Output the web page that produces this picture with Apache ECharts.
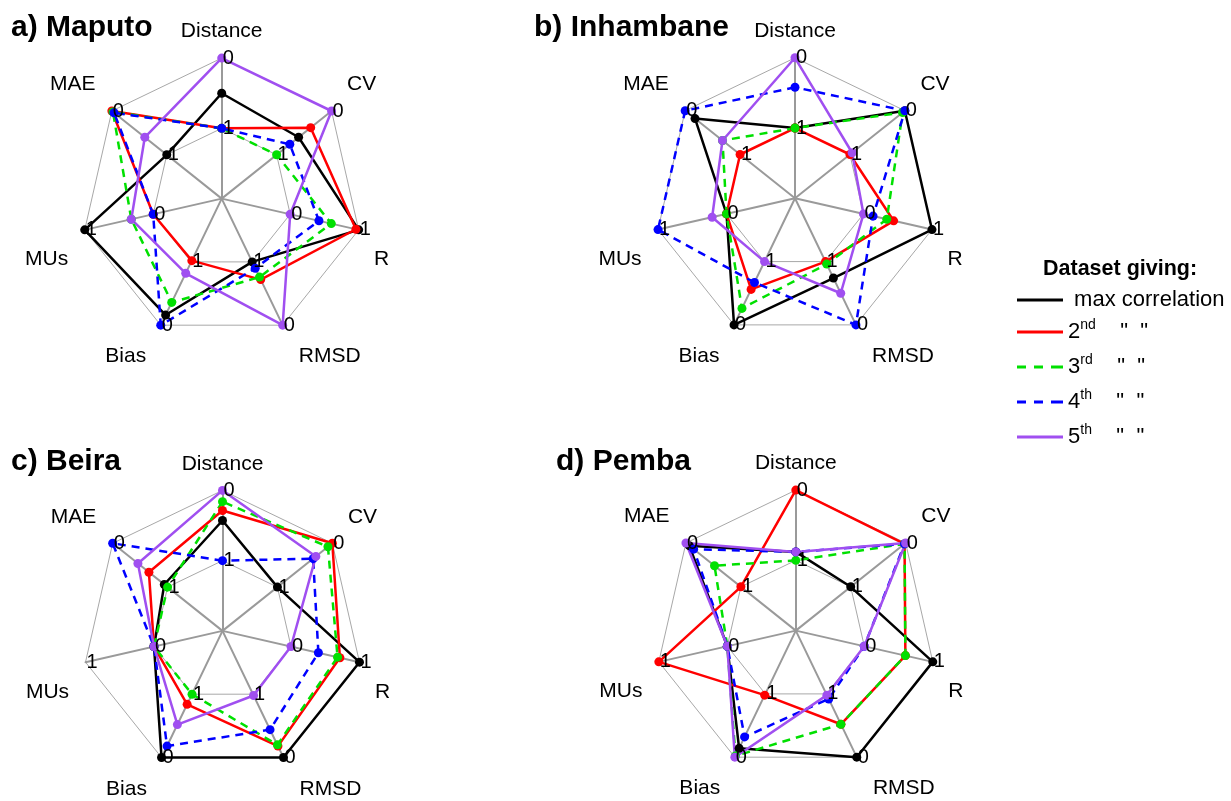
<!DOCTYPE html>
<html><head><meta charset="utf-8">
<script src="https://cdn.jsdelivr.net/npm/echarts@6/dist/echarts.min.js"></script>
<style>html,body{margin:0;padding:0;background:#fff}#c{width:1231px;height:801px}</style>
</head><body><div id="c"></div>
<script>
// Axes in clockwise order starting from the top
const axisNames = ['Distance', 'CV', 'R', 'RMSD', 'Bias', 'MUs', 'MAE'];
const outerTickLabels = ['0', '0', '1', '0', '0', '1', '0'];
const innerTickLabels = ['1', '1', '0', '1', '1', '0', '1'];
const rankNames = ['max correlation', '2nd', '3rd', '4th', '5th'];
const panelTitles = ['a) Maputo', 'b) Inhambane', 'c) Beira', 'd) Pemba'];
const legendTitle = 'Dataset giving:';

// radial position on each axis (0.5 = inner ring, 1 = outer ring), order as axisNames
const maputoMax    = [0.75, 0.70, 1.00, 0.50, 0.92, 1.00, 0.50];
const maputo2nd    = [0.50, 0.81, 0.98, 0.64, 0.49, 0.50, 1.00];
const maputo3rd    = [0.50, 0.50, 0.80, 0.62, 0.82, 0.66, 0.99];
const maputo4th    = [0.50, 0.62, 0.71, 0.55, 1.00, 0.50, 0.98];
const maputo5th    = [1.00, 1.00, 0.50, 1.00, 0.59, 0.66, 0.70];

const inhambaneMax = [0.50, 1.00, 1.00, 0.63, 1.00, 0.50, 0.91];
const inhambane2nd = [0.50, 0.50, 0.72, 0.50, 0.72, 0.50, 0.50];
const inhambane3rd = [0.50, 0.98, 0.67, 0.52, 0.87, 0.50, 0.66];
const inhambane4th = [0.79, 1.00, 0.57, 1.00, 0.665, 1.00, 1.00];
const inhambane5th = [1.00, 0.52, 0.50, 0.75, 0.50, 0.605, 0.66];

const beiraMax     = [0.786, 0.50, 1.00, 1.00, 1.00, 0.50, 0.53];
const beira2nd     = [0.857, 1.00, 0.857, 0.91, 0.58, 0.50, 0.67];
const beira3rd     = [0.92, 0.96, 0.84, 0.90, 0.50, 0.50, 0.50];
const beira4th     = [0.50, 0.825, 0.70, 0.78, 0.91, 0.50, 1.00];
const beira5th     = [1.00, 0.85, 0.50, 0.51, 0.74, 0.50, 0.77];

const pembaMax     = [0.56, 0.50, 1.00, 1.00, 0.93, 0.50, 0.97];
const pemba2nd     = [1.00, 0.99, 0.80, 0.74, 0.51, 1.00, 0.50];
const pemba3rd     = [0.50, 0.99, 0.80, 0.74, 0.99, 0.50, 0.74];
const pemba4th     = [0.56, 0.99, 0.50, 0.54, 0.84, 0.50, 0.93];
const pemba5th     = [0.56, 1.00, 0.50, 0.51, 1.00, 0.50, 1.00];

const panelData = [
  [maputoMax, maputo2nd, maputo3rd, maputo4th, maputo5th],
  [inhambaneMax, inhambane2nd, inhambane3rd, inhambane4th, inhambane5th],
  [beiraMax, beira2nd, beira3rd, beira4th, beira5th],
  [pembaMax, pemba2nd, pemba3rd, pemba4th, pemba5th]
];

// ---- styling / layout ----
const rankColors = ['#000000', '#ff0000', '#00e000', '#0000ff', '#a04ff0'];
const rankDashed = [false, false, true, true, false];
const centers = [[221.7, 198.6], [795, 198.3], [222.5, 630.9], [795.8, 630.6]];
const titlePos = [[11, 13], [534, 13], [11, 447], [556, 447]];
const RADIUS = 140.5;
const FONT = 'Liberation Sans, Arial, Helvetica, sans-serif';
// axis-name text centres relative to each panel centre (clockwise order)
const nameOffsets = [[0, -167], [140, -114], [160, 61], [108, 158], [-96, 158], [-175, 61], [-149, -114]];

// ECharts lays radar indicators counter-clockwise; reorder clockwise axes
const ccwOrder = [0, 6, 5, 4, 3, 2, 1];
const reorder = arr => ccwOrder.map(i => arr[i]);

const radars = [];
const series = [];
const graphics = [];
centers.forEach((c, p) => {
  // grid radar (below series)
  radars.push({
    center: c, radius: RADIUS, startAngle: 90, splitNumber: 2, shape: 'polygon',
    indicator: reorder(axisNames).map(n => ({ name: n, min: 0, max: 1 })),
    axisName: { show: false },
    axisLine: { lineStyle: { color: '#9a9a9a', width: 2 } },
    splitLine: { lineStyle: { color: '#a8a8a8', width: 1 } },
    splitArea: { show: false },
    axisTick: { show: false },
    axisLabel: { show: false },
    z: 0
  });
  axisNames.forEach((n, k) => {
    graphics.push({
      type: 'text', x: c[0] + nameOffsets[k][0], y: c[1] + nameOffsets[k][1], silent: true,
      style: { text: n, fill: '#000', fontSize: 21, fontFamily: FONT, align: 'center', verticalAlign: 'middle' }
    });
  });
});
centers.forEach((c, p) => {
  // label radar (above series)
  const outer = reorder(outerTickLabels), inner = reorder(innerTickLabels);
  radars.push({
    center: c, radius: RADIUS, startAngle: 90, splitNumber: 2, shape: 'polygon',
    indicator: reorder(axisNames).map((n, k) => ({
      name: n, min: 0, max: 1,
      axisLabel: {
        show: true, margin: 0, align: 'left', verticalAlign: 'middle',
        color: '#000', fontSize: 20, fontFamily: FONT, padding: [2, 0, 0, 1],
        formatter: v => (Math.abs(v - 1) < 1e-6 ? outer[k] : (Math.abs(v - 0.5) < 1e-6 ? inner[k] : ''))
      }
    })),
    axisName: { show: false },
    axisLine: { show: false },
    splitLine: { show: false },
    splitArea: { show: false },
    axisTick: { show: false },
    axisLabel: { show: true },
    z: 10
  });
  series.push({
    type: 'radar', radarIndex: p, symbol: 'circle', symbolSize: 9, silent: true,
    emphasis: { disabled: true },
    data: panelData[p].map((vals, r) => ({
      name: rankNames[r],
      value: reorder(vals),
      lineStyle: { color: rankColors[r], width: 2.5, type: rankDashed[r] ? [8, 6] : 'solid' },
      itemStyle: { color: rankColors[r] }
    }))
  });
});

const solidIcon = 'path://M0,0H46V3H0Z';
const dashIcon = 'path://M0,0H9V3H0Z M17,0H26V3H17Z M34,0H46V3H34Z';
const legendText = {
  'max correlation': '{n| max correlation}',
  '2nd': '{n|2}{s|nd}{n|    "  "}',
  '3rd': '{n|3}{s|rd}{n|    "  "}',
  '4th': '{n|4}{s|th}{n|    "  "}',
  '5th': '{n|5}{s|th}{n|    "  "}'
};

const option = {
  backgroundColor: '#fff',
  animation: false,
  title: panelTitles.map((t, i) => ({
    text: t, left: titlePos[i][0], top: titlePos[i][1], padding: 0,
    textStyle: { fontSize: 30, fontWeight: 'bold', color: '#000', fontFamily: FONT }
  })).concat([{
    text: legendTitle, left: 1043, top: 258, padding: 0,
    textStyle: { fontSize: 21.5, fontWeight: 'bold', color: '#000', fontFamily: FONT }
  }]),
  legend: {
    orient: 'vertical', left: 1017, top: 289, padding: 0,
    itemWidth: 46, itemHeight: 3, itemGap: 7, selectedMode: false,
    data: rankNames.map((n, r) => ({
      name: n, icon: rankDashed[r] ? dashIcon : solidIcon,
      itemStyle: { color: rankColors[r], borderWidth: 0 }
    })),
    formatter: n => legendText[n],
    textStyle: {
      fontFamily: FONT, color: '#000',
      rich: {
        n: { fontSize: 22, lineHeight: 28, fontFamily: FONT, color: '#000' },
        s: { fontSize: 14, lineHeight: 28, fontFamily: FONT, color: '#000', padding: [0, 0, 14, 0] }
      }
    }
  },
  radar: radars,
  series: series,
  graphic: { elements: graphics }
};

const chart = echarts.init(document.getElementById('c'), null, { renderer: 'canvas' });
chart.setOption(option);
</script>
</body></html>
